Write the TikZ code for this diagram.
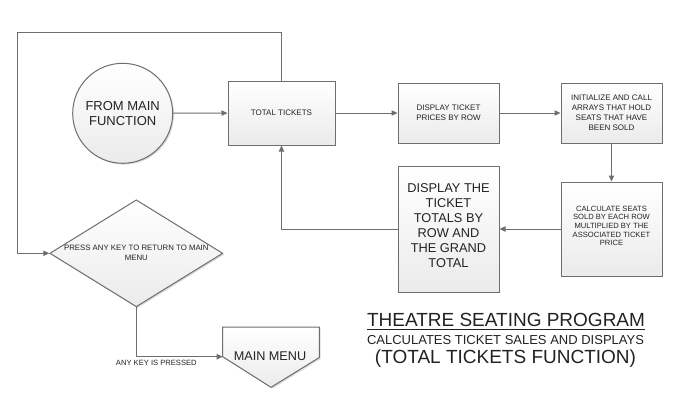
\documentclass[tikz,border=0pt]{standalone}
\usepackage{fontspec}
\setmainfont{Liberation Sans}
\usetikzlibrary{arrows.meta,shapes.geometric,shadows}
\definecolor{lc}{HTML}{6E6E6E}
\definecolor{tc}{HTML}{222222}
\definecolor{fb}{HTML}{EBEBEB}
\newcommand\fntS{\fontsize{6pt}{7.5pt}\selectfont}
\newcommand\fntK{\fontsize{5.7pt}{6.5pt}\selectfont}
\newcommand\fntC{\fontsize{9.75pt}{11pt}\selectfont}
\newcommand\fntL{\fontsize{9.6pt}{11.25pt}\selectfont}
\newcommand\fntD{\fontsize{5.85pt}{7.5pt}\selectfont}
\newcommand\fntM{\fontsize{9.5pt}{11pt}\selectfont}
\newcommand\fntTitle{\fontsize{14.25pt}{16pt}\selectfont}
\newcommand\fntSub{\fontsize{9.75pt}{11pt}\selectfont}
\begin{document}
\begin{tikzpicture}[x=0.75pt,y=-0.75pt,
  conn/.style={draw=lc, line width=0.75pt},
  arr/.style={conn, -{Triangle[length=4.5pt,width=4pt]}},
  shadebox/.style={draw=lc, line width=0.75pt, top color=white, bottom color=fb,
    drop shadow={shadow xshift=1pt,shadow yshift=-1pt,opacity=0.15,fill=black}},
  procbox/.style={shadebox, rectangle, inner sep=1pt, align=center, text=tc},
  txt/.style={text=tc, inner sep=0pt, align=center}
]
\fill[white] (0,0) rectangle (676,400);
\useasboundingbox (0,0) rectangle (676,400);

% nodes
\node[shadebox, circle, minimum size=75pt, inner sep=0pt, align=center, text=tc, font=\fntC] (fm) at (122.7,113.3) {FROM MAIN\\FUNCTION};
\node[procbox, minimum width=80.25pt, minimum height=48pt, font=\fntS] (tt) at (281.5,113) {TOTAL TICKETS};
\node[procbox, minimum width=75.75pt, minimum height=45pt, font=\fntS] (dp) at (448.5,113) {DISPLAY TICKET\\PRICES BY ROW};
\node[procbox, minimum width=75.75pt, minimum height=45pt, font=\fntS] (init) at (611.5,113) {INITIALIZE AND CALL\\ARRAYS THAT HOLD\\SEATS THAT HAVE\\BEEN SOLD};
\node[procbox, minimum width=75.75pt, minimum height=70.5pt] (calc) at (611.5,229) {};
\node[txt, font=\fntK] (calctext) at (611.5,226) {CALCULATE SEATS\\SOLD BY EACH ROW\\MULTIPLIED BY THE\\ASSOCIATED TICKET\\PRICE};
\node[procbox, minimum width=75.75pt, minimum height=94.5pt] (dt) at (448.5,229) {};
\node[txt, font=\fntL] (dttext) at (448.5,226) {DISPLAY THE\\TICKET\\TOTALS BY\\ROW AND\\THE GRAND\\TOTAL};
\node[shadebox, diamond, minimum width=129.75pt, minimum height=80.25pt, inner sep=0pt] (dia) at (136.3,253.3) {};
\node[txt, font=\fntD] (diatext) at (dia.center) {PRESS ANY KEY TO RETURN TO MAIN\\MENU};

% main menu (off-page connector)
\coordinate (mmTL) at (222.7,327);
\coordinate (mmTR) at (319.3,327);
\coordinate (mmBR) at (319.3,357.5);
\coordinate (mmTip) at (271,387.3);
\coordinate (mmBL) at (222.7,356.7);
\draw[shadebox] (mmTL) -- (mmTR) -- (mmBR) -- (mmTip) -- (mmBL) -- cycle;
\node[txt, font=\fntM] (mmtext) at (270,356) {MAIN MENU};

% connectors
\draw[arr] (fm) -- (tt);
\draw[arr] (tt) -- (dp);
\draw[arr] (dp) -- (init);
\draw[arr] (init) -- (calc);
\draw[arr] (calc) -- (dt);
\draw[arr] (dt.west) -| (tt.south);
\coordinate (lt) at (17.3,32.3);
\draw[arr] (tt.north) |- (lt) |- (dia.west);
\draw[arr] (dia.south) |- (mmBL);
\node[txt, font=\fntK] (akp) at (156.3,363.3) {ANY KEY IS PRESSED};

% title
\node[txt, font=\fntTitle, anchor=base] (title) at (506,326.7) {THEATRE SEATING PROGRAM};
\draw[draw=tc, line width=0.75pt] ([yshift=-2pt]title.base west) -- ([yshift=-2pt]title.base east);
\node[txt, font=\fntSub, anchor=base] (sub) at (505.5,344.3) {CALCULATES TICKET SALES AND DISPLAYS};
\node[txt, font=\fntTitle, anchor=base] (sub2) at (505.5,363.3) {(TOTAL TICKETS FUNCTION)};
\end{tikzpicture}
\end{document}
